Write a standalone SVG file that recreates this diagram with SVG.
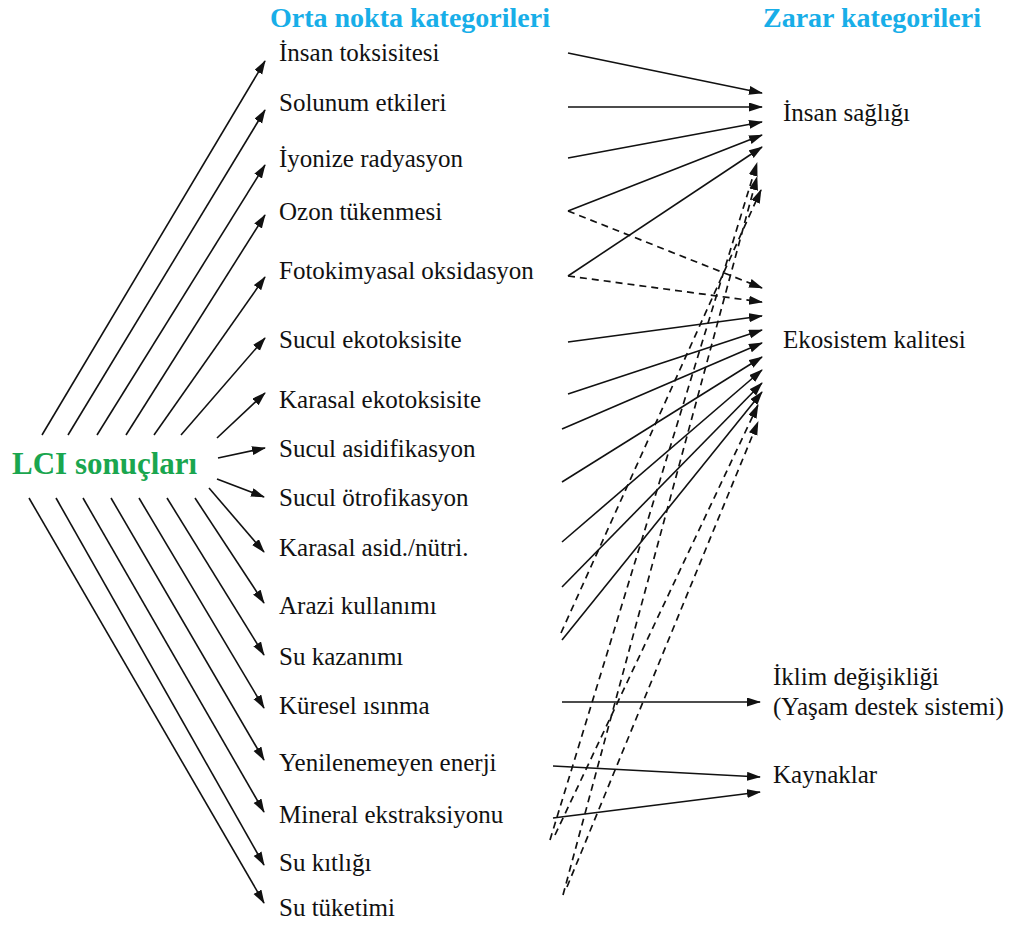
<svg xmlns="http://www.w3.org/2000/svg" width="1012" height="925" viewBox="0 0 1012 925">
  <style>
    .lbl { font-family: "Liberation Serif", "Times New Roman", serif; font-size: 25px; fill: #111; }
    .hdr { font-family: "Liberation Serif", "Times New Roman", serif; font-size: 28px; font-weight: bold; fill: #18aee8; }
    .src { font-family: "Liberation Serif", "Times New Roman", serif; font-size: 31px; font-weight: bold; fill: #1aa64f; }
    .ln { stroke: #111; stroke-width: 1.6; fill: none; marker-end: url(#arr); }
    .dash { stroke: #111; stroke-width: 1.7; fill: none; stroke-dasharray: 7 5; marker-end: url(#arr); }
  </style>
  <defs>
    <marker id="arr" markerUnits="userSpaceOnUse" markerWidth="14" markerHeight="10" refX="13" refY="4.5" orient="auto">
      <path d="M0,0 L14,4.5 L0,9 z" fill="#111"/>
    </marker>
  </defs>
  <rect width="1012" height="925" fill="#fff"/>

  <!-- column headers -->
  <text class="hdr" x="270" y="27">Orta nokta kategorileri</text>
  <text class="hdr" x="763" y="27">Zarar kategorileri</text>

  <!-- source node -->
  <g id="lci"><text class="src" x="12" y="474">LCI sonuçları</text></g>

  <!-- midpoint categories -->
  <g id="m-insan-toks"><text class="lbl" x="279" y="61">İnsan toksisitesi</text></g>
  <g id="m-solunum"><text class="lbl" x="279" y="111">Solunum etkileri</text></g>
  <g id="m-iyonize"><text class="lbl" x="279" y="167">İyonize radyasyon</text></g>
  <g id="m-ozon"><text class="lbl" x="279" y="220">Ozon tükenmesi</text></g>
  <g id="m-fotokim"><text class="lbl" x="279" y="279">Fotokimyasal oksidasyon</text></g>
  <g id="m-sucul-eko"><text class="lbl" x="279" y="348">Sucul ekotoksisite</text></g>
  <g id="m-karasal-eko"><text class="lbl" x="279" y="408">Karasal ekotoksisite</text></g>
  <g id="m-sucul-asid"><text class="lbl" x="279" y="457">Sucul asidifikasyon</text></g>
  <g id="m-sucul-otro"><text class="lbl" x="279" y="506">Sucul ötrofikasyon</text></g>
  <g id="m-karasal-asid"><text class="lbl" x="279" y="556">Karasal asid./nütri.</text></g>
  <g id="m-arazi"><text class="lbl" x="279" y="614">Arazi kullanımı</text></g>
  <g id="m-su-kazanim"><text class="lbl" x="279" y="665">Su kazanımı</text></g>
  <g id="m-kuresel"><text class="lbl" x="279" y="714">Küresel ısınma</text></g>
  <g id="m-yenilenemeyen"><text class="lbl" x="279" y="771">Yenilenemeyen enerji</text></g>
  <g id="m-mineral"><text class="lbl" x="279" y="823">Mineral ekstraksiyonu</text></g>
  <g id="m-su-kitligi"><text class="lbl" x="279" y="871">Su kıtlığı</text></g>
  <g id="m-su-tuketimi"><text class="lbl" x="279" y="916">Su tüketimi</text></g>

  <!-- damage categories -->
  <g id="d-insan"><text class="lbl" x="783" y="121">İnsan sağlığı</text></g>
  <g id="d-ekosistem"><text class="lbl" x="783" y="348">Ekosistem kalitesi</text></g>
  <g id="d-iklim">
    <text class="lbl" x="773" y="685">İklim değişikliği</text>
    <text class="lbl" x="773" y="715">(Yaşam destek sistemi)</text>
  </g>
  <g id="d-kaynaklar"><text class="lbl" x="773" y="783">Kaynaklar</text></g>

  <g id="connectors">
    <!-- LCI results to midpoints -->
    <line class="ln" x1="42" y1="435" x2="265" y2="61"/>
    <line class="ln" x1="68" y1="435" x2="265" y2="110"/>
    <line class="ln" x1="97" y1="435" x2="265" y2="165"/>
    <line class="ln" x1="126" y1="435" x2="265" y2="215"/>
    <line class="ln" x1="154" y1="435" x2="265" y2="277"/>
    <line class="ln" x1="181" y1="435" x2="265" y2="338"/>
    <line class="ln" x1="217" y1="438" x2="265" y2="393"/>
    <line class="ln" x1="218" y1="458" x2="265" y2="448"/>
    <line class="ln" x1="217" y1="479" x2="264" y2="497"/>
    <line class="ln" x1="209" y1="488" x2="264" y2="552"/>
    <line class="ln" x1="195" y1="498" x2="264" y2="603"/>
    <line class="ln" x1="167" y1="498" x2="264" y2="655"/>
    <line class="ln" x1="139" y1="498" x2="264" y2="708"/>
    <line class="ln" x1="111" y1="498" x2="264" y2="760"/>
    <line class="ln" x1="83" y1="498" x2="264" y2="812"/>
    <line class="ln" x1="56" y1="498" x2="264" y2="865"/>
    <line class="ln" x1="29" y1="498" x2="264" y2="903"/>

    <!-- midpoints to human health -->
    <line class="ln" x1="568" y1="53" x2="762" y2="93"/>
    <line class="ln" x1="568" y1="107" x2="762" y2="107"/>
    <line class="ln" x1="568" y1="158" x2="762" y2="122"/>
    <line class="ln" x1="568" y1="211" x2="762" y2="135"/>
    <line class="ln" x1="568" y1="276" x2="762" y2="147"/>
    <line class="dash" x1="550" y1="840" x2="757" y2="163"/>
    <line class="dash" x1="563" y1="895" x2="757" y2="177"/>
    <line class="dash" x1="561" y1="633" x2="761" y2="190"/>

    <!-- midpoints to ecosystem quality -->
    <line class="dash" x1="568" y1="211" x2="762" y2="288"/>
    <line class="dash" x1="568" y1="276" x2="762" y2="302"/>
    <line class="ln" x1="568" y1="342" x2="762" y2="316"/>
    <line class="ln" x1="568" y1="394" x2="762" y2="330"/>
    <line class="ln" x1="562" y1="429" x2="762" y2="343"/>
    <line class="ln" x1="562" y1="482" x2="762" y2="357"/>
    <line class="ln" x1="562" y1="542" x2="762" y2="370"/>
    <line class="ln" x1="562" y1="587" x2="762" y2="383"/>
    <line class="ln" x1="562" y1="640" x2="762" y2="392"/>
    <line class="dash" x1="555" y1="835" x2="758" y2="405"/>
    <line class="dash" x1="567" y1="887" x2="758" y2="422"/>

    <!-- climate change and resources -->
    <line class="ln" x1="562" y1="702" x2="760" y2="702"/>
    <line class="ln" x1="553" y1="766" x2="760" y2="777"/>
    <line class="ln" x1="553" y1="818" x2="760" y2="792"/>
  </g>
</svg>
